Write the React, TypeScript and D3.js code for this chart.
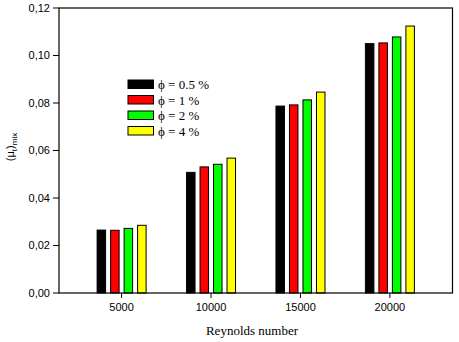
import React from 'react';
import * as d3 from 'd3';

const reynolds = [5000, 10000, 15000, 20000];
const seriesNames = ['ϕ = 0.5 %', 'ϕ = 1 %', 'ϕ = 2 %', 'ϕ = 4 %'];
const seriesColors = ['#000000', '#ff0000', '#00ff00', '#ffff00'];
const phi05 = [0.0265, 0.0508, 0.0787, 0.105];
const phi1 = [0.0264, 0.0531, 0.0792, 0.1053];
const phi2 = [0.0272, 0.0542, 0.0813, 0.1078];
const phi4 = [0.0285, 0.0568, 0.0846, 0.1124];
const yTicks = [0, 0.02, 0.04, 0.06, 0.08, 0.1, 0.12];

const W = 459;
const H = 342;
const SANS = "'Liberation Sans', Arial, sans-serif";
const SERIF = "'Liberation Serif', 'Times New Roman', serif";

const left = 59;
const right = 452.5;
const top = 8;
const bottom = 293;
const barW = 8.5;
const step = 13.5;

function App() {
  const series = [phi05, phi1, phi2, phi4];
  const xScale = d3.scaleLinear().domain([1500, 23500]).range([left, right]);
  const yScale = d3.scaleLinear().domain([0, 0.12]).range([bottom, top]);
  const fmt = (v: number) => d3.format('.2f')(v).replace('.', ',');

  return (
    <svg
      width={W}
      height={H}
      style={{ position: 'absolute', left: 0, top: 0, background: '#fff' }}
    >
      {/* bars */}
      {series.map((vals, s) => (
        <g key={s}>
          {vals.map((d, i) => (
            <rect
              key={i}
              x={xScale(reynolds[i]) + (s - 1.5) * step - barW / 2}
              y={yScale(d)}
              width={barW}
              height={bottom - yScale(d)}
              fill={seriesColors[s]}
              stroke="#000"
              strokeWidth={1}
            />
          ))}
        </g>
      ))}

      {/* frame */}
      <rect
        x={left}
        y={top}
        width={right - left}
        height={bottom - top}
        fill="none"
        stroke="#000"
        strokeWidth={1.2}
      />

      {/* y axis */}
      {yTicks.map((t) => (
        <g key={t}>
          <line x1={left - 6} x2={left} y1={yScale(t)} y2={yScale(t)} stroke="#000" />
          <text
            x={left - 9}
            y={yScale(t)}
            dy="0.35em"
            textAnchor="end"
            style={{ fontFamily: SANS, fontSize: 11 }}
          >
            {fmt(t)}
          </text>
        </g>
      ))}

      {/* x axis */}
      {reynolds.map((r) => (
        <g key={r}>
          <line x1={xScale(r)} x2={xScale(r)} y1={bottom} y2={bottom + 5} stroke="#000" />
          <text
            x={xScale(r)}
            y={bottom + 18}
            textAnchor="middle"
            style={{ fontFamily: SANS, fontSize: 11 }}
          >
            {r}
          </text>
        </g>
      ))}

      {/* axis titles */}
      <text x={252} y={335} textAnchor="middle" style={{ fontFamily: SERIF, fontSize: 13 }}>
        Reynolds number
      </text>
      <text
        transform="translate(14,147) rotate(-90)"
        textAnchor="middle"
        style={{ fontFamily: SANS, fontSize: 11 }}
      >
        <tspan>(μ</tspan>
        <tspan dy={3} style={{ fontSize: 8 }}>t</tspan>
        <tspan dy={-3}>)</tspan>
        <tspan dy={3} style={{ fontSize: 8 }}>mix</tspan>
      </text>

      {/* legend */}
      <g transform="translate(128,80)">
        {seriesNames.map((name, i) => (
          <g key={name}>
            <rect
              x={0}
              y={i * 15.5}
              width={25.5}
              height={8.5}
              fill={seriesColors[i]}
              stroke="#000"
              strokeWidth={1}
            />
            <text x={30} y={i * 15.5 + 9} style={{ fontFamily: SERIF, fontSize: 13 }}>
              {name}
            </text>
          </g>
        ))}
      </g>
    </svg>
  );
}

export default App;
